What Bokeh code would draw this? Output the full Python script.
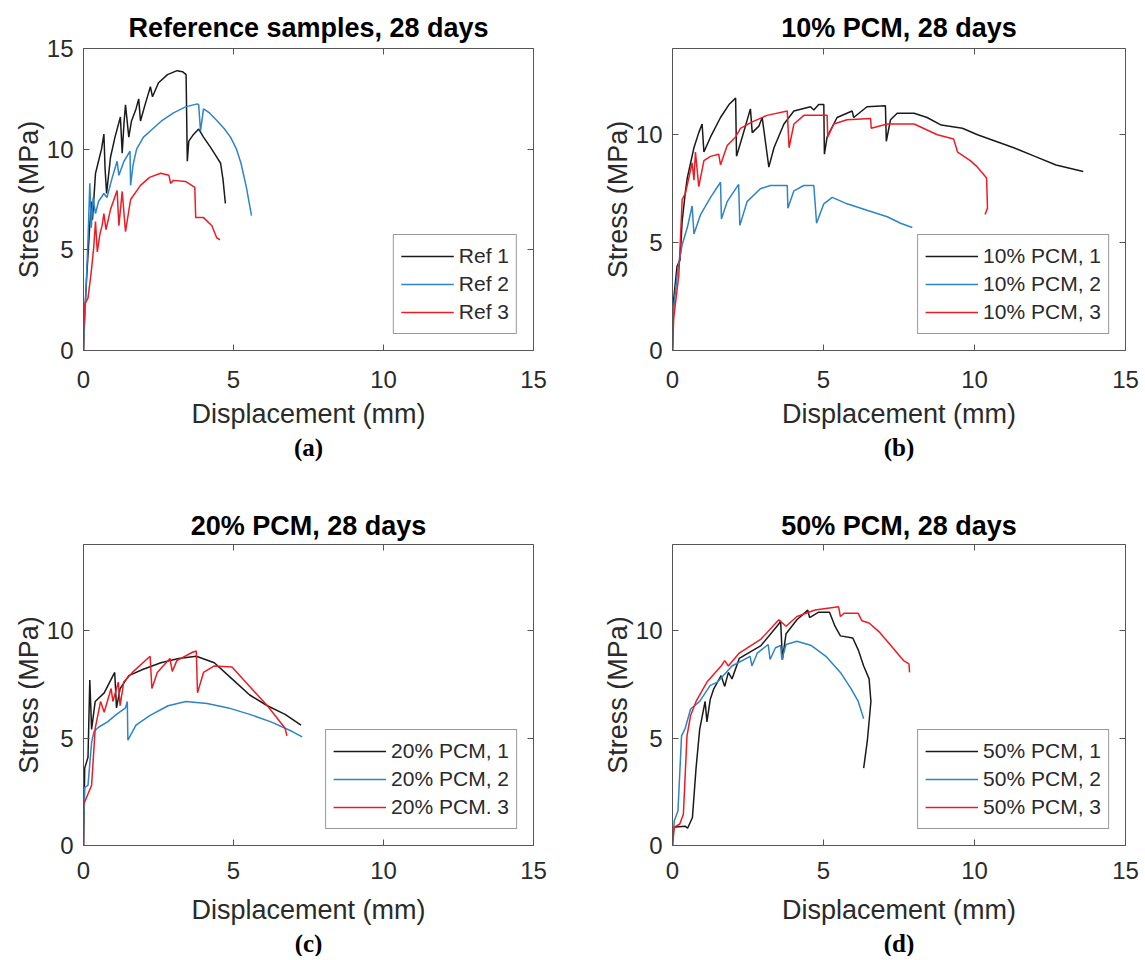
from bokeh.plotting import figure
from bokeh.models import Range1d, FixedTicker, LinearAxis, Title, Legend, LegendItem
from bokeh.layouts import column, row
from bokeh.embed import file_html
from bokeh.resources import INLINE

FONT = "Liberation Sans"
SERIF = "Liberation Serif"
BLACK = "#1a1a1a"
BLUE = "#2e84c6"
RED = "#ec1c24"
AX = "#555555"
TXT = "#2a2a2a"

x_ticks = [0, 5, 10, 15]
y_ticks_a = [0, 5, 10, 15]
y_ticks_bcd = [0, 5, 10]

# ---- (a) Reference samples, 28 days : (displacement mm, stress MPa)
ref1 = [(0, 0), (0.03, 1.5), (0.1, 3.5), (0.2, 6.0), (0.26, 7.4), (0.3, 6.5), (0.4, 8.8), (0.5, 9.4),
        (0.6, 10.0), (0.68, 10.75), (0.72, 9.0), (0.77, 7.8), (0.9, 9.6), (1.05, 10.6), (1.23, 11.6),
        (1.29, 9.8), (1.35, 11.3), (1.4, 12.2), (1.51, 10.6), (1.6, 11.4), (1.75, 12.0), (1.84, 12.5),
        (1.9, 11.4), (2.05, 12.2), (2.23, 13.1), (2.3, 12.6), (2.5, 13.3), (2.8, 13.7), (3.12, 13.9),
        (3.3, 13.85), (3.42, 13.7), (3.46, 9.4), (3.51, 10.4), (3.65, 10.7), (3.84, 11.0), (4.0, 10.6),
        (4.23, 10.1), (4.4, 9.7), (4.57, 9.3), (4.65, 8.5), (4.73, 7.3)]
ref2 = [(0, 0), (0.07, 2.5), (0.15, 5.5), (0.21, 8.3), (0.26, 6.1), (0.32, 7.6), (0.4, 6.8), (0.5, 7.4),
        (0.68, 7.8), (0.78, 7.6), (0.96, 8.6), (1.12, 9.4), (1.18, 8.7), (1.35, 9.4), (1.55, 9.9),
        (1.57, 8.2), (1.65, 9.2), (1.77, 10.0), (2.0, 10.6), (2.3, 11.0), (2.6, 11.4), (3.0, 11.8),
        (3.4, 12.1), (3.79, 12.25), (3.84, 12.2), (3.9, 10.9), (4.0, 12.0), (4.2, 11.8), (4.46, 11.4),
        (4.7, 11.0), (4.9, 10.6), (5.1, 10.0), (5.25, 9.3), (5.43, 8.1), (5.6, 6.7)]
ref3 = [(0, 0), (0.0, 1.0), (0.04, 2.3), (0.15, 2.6), (0.25, 3.8), (0.34, 5.1), (0.4, 6.4), (0.46, 4.9),
        (0.55, 5.8), (0.62, 6.2), (0.68, 6.8), (0.75, 6.0), (0.9, 7.0), (1.12, 7.95), (1.18, 6.2),
        (1.29, 7.9), (1.4, 5.9), (1.57, 7.5), (1.9, 8.2), (2.2, 8.6), (2.57, 8.8), (2.85, 8.7), (2.9, 8.3),
        (3.0, 8.45), (3.4, 8.4), (3.71, 8.1), (3.74, 6.6), (4.0, 6.6), (4.28, 6.2), (4.44, 5.6), (4.55, 5.5)]

# ---- (b) 10% PCM, 28 days
pcm10_1 = [(0, 0), (0.04, 2.4), (0.15, 3.9), (0.25, 4.2), (0.32, 6.0), (0.43, 7.4), (0.49, 8.0), (0.71, 9.4),
           (0.87, 10.1), (0.98, 10.5), (1.04, 9.2), (1.26, 9.9), (1.59, 10.8), (1.87, 11.4), (2.09, 11.7),
           (2.12, 9.0), (2.31, 9.9), (2.58, 11.2), (2.64, 10.1), (2.86, 10.4), (2.97, 10.8), (3.19, 8.5),
           (3.36, 9.4), (3.69, 10.5), (4.02, 11.1), (4.57, 11.3), (4.68, 11.15), (4.84, 11.4), (5.01, 11.4),
           (5.03, 9.1), (5.12, 9.9), (5.45, 10.8), (5.95, 11.1), (6.0, 10.8), (6.44, 11.3), (7.05, 11.35),
           (7.08, 9.7), (7.22, 10.7), (7.44, 11.0), (8.0, 11.0), (8.43, 10.8), (8.9, 10.45), (9.6, 10.3),
           (10.1, 10.0), (10.7, 9.7), (11.3, 9.4), (12.0, 9.0), (12.7, 8.6), (13.6, 8.3)]
pcm10_2 = [(0, 0), (0.04, 2.0), (0.18, 3.8), (0.32, 4.9), (0.49, 5.7), (0.65, 6.7), (0.71, 5.4), (0.93, 6.3),
           (1.26, 7.1), (1.59, 7.8), (1.62, 6.1), (1.81, 6.9), (2.19, 7.7), (2.23, 5.8), (2.47, 6.9),
           (2.91, 7.5), (3.24, 7.65), (3.8, 7.65), (3.82, 6.6), (4.02, 7.4), (4.35, 7.65), (4.68, 7.65),
           (4.77, 5.9), (5.01, 6.8), (5.29, 7.1), (5.78, 6.8), (6.44, 6.5), (7.11, 6.2), (7.55, 5.9), (7.94, 5.7)]
pcm10_3 = [(0, 0), (0.04, 1.5), (0.21, 3.5), (0.32, 7.0), (0.43, 7.3), (0.65, 8.7), (0.71, 7.9), (0.76, 9.2),
           (0.87, 7.6), (1.04, 8.8), (1.26, 9.0), (1.53, 9.1), (1.59, 8.6), (1.81, 9.5), (2.09, 9.9),
           (2.25, 10.3), (2.64, 10.6), (3.13, 10.9), (3.8, 11.1), (3.86, 9.4), (4.02, 10.5), (4.35, 10.9),
           (5.12, 10.9), (5.14, 9.9), (5.34, 10.5), (5.78, 10.7), (6.56, 10.75), (6.58, 10.3), (7.11, 10.5),
           (8.0, 10.5), (8.77, 10.0), (9.31, 9.8), (9.44, 9.2), (9.86, 8.8), (10.1, 8.5), (10.4, 8.0),
           (10.43, 6.6), (10.35, 6.3)]

# ---- (c) 20% PCM, 28 days
pcm20_1 = [(0, 0), (0.04, 3.6), (0.15, 4.1), (0.21, 7.7), (0.27, 5.4), (0.39, 6.7), (0.69, 7.1), (1.04, 8.05),
           (1.1, 6.4), (1.22, 7.3), (1.51, 7.9), (1.99, 8.2), (2.58, 8.5), (3.17, 8.7), (3.76, 8.8),
           (4.36, 8.5), (4.95, 7.75), (5.54, 7.0), (6.13, 6.5), (6.72, 6.1), (7.25, 5.6)]
pcm20_2 = [(0, 0), (0.04, 2.7), (0.15, 2.8), (0.27, 4.8), (0.35, 5.3), (0.5, 5.5), (0.8, 5.75), (1.1, 6.1),
           (1.4, 6.4), (1.46, 6.7), (1.48, 4.9), (1.75, 5.6), (2.22, 6.05), (2.82, 6.5), (3.41, 6.7),
           (4.12, 6.6), (4.83, 6.4), (5.54, 6.1), (6.25, 5.75), (6.96, 5.3), (7.29, 5.05)]
pcm20_3 = [(0, 0), (0.0, 1.9), (0.09, 2.2), (0.27, 2.8), (0.39, 5.45), (0.57, 6.7), (0.69, 6.2), (0.92, 7.3),
           (0.98, 6.7), (1.16, 7.6), (1.22, 6.5), (1.34, 7.6), (1.63, 8.05), (2.22, 8.8), (2.28, 7.3),
           (2.46, 8.05), (2.88, 8.7), (2.96, 8.1), (3.11, 8.6), (3.65, 9.0), (3.76, 9.05), (3.8, 7.1),
           (4.0, 8.05), (4.36, 8.35), (4.95, 8.3), (5.54, 7.4), (6.13, 6.5), (6.72, 5.45), (6.78, 5.1)]

# ---- (d) 50% PCM, 28 days
pcm50_1 = [(0, 0), (0.0, 0.85), (0.42, 0.9), (0.5, 0.8), (0.66, 1.3), (0.78, 3.6), (0.9, 5.4), (1.08, 6.7),
           (1.14, 5.75), (1.25, 6.8), (1.37, 7.3), (1.61, 7.9), (1.73, 7.4), (1.85, 8.05), (1.97, 7.75),
           (2.21, 8.7), (2.93, 9.3), (3.52, 10.3), (3.58, 10.45), (3.64, 8.65), (3.76, 9.85), (4.12, 10.5),
           (4.48, 10.95), (4.54, 10.6), (4.84, 10.85), (5.2, 10.85), (5.38, 10.2), (5.56, 9.75),
           (5.97, 9.65), (6.15, 9.1), (6.33, 8.35), (6.51, 7.75), (6.57, 6.7), (6.45, 4.85), (6.33, 3.6)]
pcm50_2 = [(0, 0), (0.06, 1.15), (0.18, 1.6), (0.3, 5.1), (0.42, 5.45), (0.6, 6.35), (0.9, 6.7), (1.25, 7.45),
           (1.49, 7.6), (1.97, 8.35), (2.57, 8.8), (2.63, 8.35), (2.81, 8.95), (3.17, 9.35), (3.23, 8.65),
           (3.41, 9.2), (3.58, 9.3), (3.62, 8.65), (3.76, 9.35), (4.12, 9.5), (4.6, 9.3), (5.08, 8.8),
           (5.56, 8.05), (5.91, 7.3), (6.15, 6.7), (6.33, 5.9)]
pcm50_3 = [(0, 0), (0.06, 0.85), (0.24, 1.0), (0.36, 1.45), (0.48, 5.1), (0.6, 6.05), (0.78, 6.7), (1.14, 7.6),
           (1.61, 8.35), (1.73, 8.6), (1.85, 8.35), (2.21, 8.95), (2.93, 9.6), (3.52, 10.5), (3.76, 10.2),
           (4.12, 10.65), (4.72, 10.95), (5.5, 11.1), (5.56, 10.65), (5.68, 10.8), (6.15, 10.8),
           (6.27, 10.45), (6.51, 10.35), (6.87, 9.9), (7.23, 9.3), (7.65, 8.6), (7.83, 8.45), (7.85, 8.05)]

titles = ["Reference samples, 28 days", "10% PCM, 28 days", "20% PCM, 28 days", "50% PCM, 28 days"]
sublabels = ["(a)", "(b)", "(c)", "(d)"]
legend_labels = [["Ref 1", "Ref 2", "Ref 3"],
                 ["10% PCM, 1", "10% PCM, 2", "10% PCM, 3"],
                 ["20% PCM, 1", "20% PCM, 2", "20% PCM. 3"],
                 ["50% PCM, 1", "50% PCM, 2", "50% PCM, 3"]]
series = [[ref1, ref2, ref3], [pcm10_1, pcm10_2, pcm10_3],
          [pcm20_1, pcm20_2, pcm20_3], [pcm50_1, pcm50_2, pcm50_3]]
colors = [BLACK, BLUE, RED]


def style_axis(ax, ticks, show_labels=True):
    ax.ticker = FixedTicker(ticks=ticks)
    ax.major_tick_in = 6
    ax.major_tick_out = 0
    ax.minor_tick_line_color = None
    ax.axis_line_color = AX
    ax.axis_line_width = 1
    ax.major_tick_line_color = AX
    ax.major_label_text_font = FONT
    ax.major_label_text_color = TXT
    ax.axis_label_text_font = FONT
    ax.axis_label_text_font_size = "27px"
    ax.axis_label_text_font_style = "normal"
    ax.axis_label_text_color = TXT
    if show_labels:
        ax.major_label_text_font_size = "24px"
    else:
        # mirrored box ticks only: labels are not painted at all
        ax.major_label_text_font_size = "1px"
        ax.major_label_text_color = None
        ax.major_label_standoff = 0


def make_panel(i, ymax, yticks, width, height, bl, br, bt, bb, title_so, tick_so, label_so, sub_so):
    p = figure(width=width, height=height, x_range=Range1d(0, 15), y_range=Range1d(0, ymax),
               output_backend="svg", toolbar_location=None,
               min_border_left=bl, min_border_right=br, min_border_top=bt, min_border_bottom=bb,
               title=titles[i])
    p.title.text_font = FONT
    p.title.text_font_size = "27px"
    p.title.text_font_style = "bold"
    p.title.align = "center"
    p.title.text_color = "#000000"
    p.title.standoff = title_so
    p.outline_line_color = None
    p.xgrid.grid_line_color = None
    p.ygrid.grid_line_color = None
    p.background_fill_color = "white"
    p.border_fill_color = "white"

    style_axis(p.xaxis[0], x_ticks)
    style_axis(p.yaxis[0], yticks)
    p.xaxis.axis_label = "Displacement (mm)"
    p.yaxis.axis_label = "Stress (MPa)"
    p.xaxis.major_label_standoff = tick_so
    p.yaxis.major_label_standoff = 10
    p.xaxis.axis_label_standoff = label_so
    p.yaxis.axis_label_standoff = 0

    top = LinearAxis()
    style_axis(top, x_ticks, show_labels=False)
    p.add_layout(top, "above")
    right = LinearAxis()
    style_axis(right, yticks, show_labels=False)
    p.add_layout(right, "right")

    items = []
    for data, c, lab in zip(series[i], colors, legend_labels[i]):
        xs = [d[0] for d in data]
        ys = [d[1] for d in data]
        r = p.line(xs, ys, line_color=c, line_width=1.5)
        items.append(LegendItem(label=lab, renderers=[r]))
    leg = Legend(items=items, location="bottom_right")
    leg.label_text_font = FONT
    leg.label_text_font_size = "21px"
    leg.label_text_color = TXT
    leg.glyph_width = 53
    leg.glyph_height = 28
    leg.label_height = 28
    leg.label_standoff = 5
    leg.padding = 7
    leg.spacing = 0
    leg.margin = 16
    leg.border_line_color = "#333333"
    leg.border_line_width = 1
    leg.background_fill_color = "white"
    leg.background_fill_alpha = 1
    p.add_layout(leg)

    sub = Title(text=sublabels[i], align="center", text_font=SERIF, text_font_size="25px",
                text_font_style="bold", text_color="#000000", standoff=sub_so)
    p.add_layout(sub, "below")
    return p


pa = make_panel(0, 15, y_ticks_a, 573, 488, 83, 40, 48, 138, 11, 20, 8, 0)
pb = make_panel(1, 14, y_ticks_bcd, 570, 488, 99, 18, 48, 138, 11, 20, 8, 0)
pc = make_panel(2, 14, y_ticks_bcd, 573, 468, 83, 40, 56, 109, 8, 16, 13, 0)
pd = make_panel(3, 14, y_ticks_bcd, 570, 468, 99, 18, 56, 109, 8, 16, 13, 0)

layout = column(row(pa, pb), row(pc, pd))
open("out.html", "w").write(file_html(layout, INLINE))
